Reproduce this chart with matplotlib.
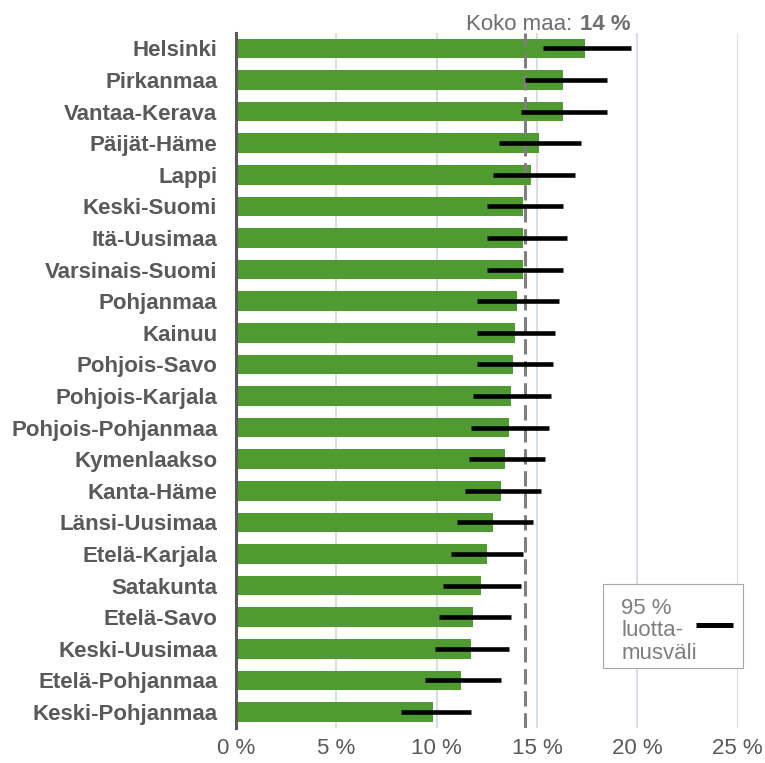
import matplotlib
matplotlib.use("Agg")
import matplotlib.pyplot as plt
from matplotlib.lines import Line2D
from matplotlib.patches import Rectangle

plt.rcParams['font.family'] = ['Liberation Sans', 'DejaVu Sans']

regions = ["Helsinki", "Pirkanmaa", "Vantaa-Kerava", "Päijät-Häme", "Lappi",
           "Keski-Suomi", "Itä-Uusimaa", "Varsinais-Suomi", "Pohjanmaa", "Kainuu",
           "Pohjois-Savo", "Pohjois-Karjala", "Pohjois-Pohjanmaa", "Kymenlaakso",
           "Kanta-Häme", "Länsi-Uusimaa", "Etelä-Karjala", "Satakunta", "Etelä-Savo",
           "Keski-Uusimaa", "Etelä-Pohjanmaa", "Keski-Pohjanmaa"]
values = [17.4, 16.3, 16.3, 15.1, 14.7, 14.3, 14.3, 14.3, 14.0, 13.9, 13.8, 13.7,
          13.6, 13.4, 13.2, 12.8, 12.5, 12.2, 11.8, 11.7, 11.2, 9.8]
ci_low = [15.3, 14.4, 14.2, 13.1, 12.8, 12.5, 12.5, 12.5, 12.0, 12.0, 12.0, 11.8,
          11.7, 11.6, 11.4, 11.0, 10.7, 10.3, 10.1, 9.9, 9.4, 8.2]
ci_high = [19.7, 18.5, 18.5, 17.2, 16.9, 16.3, 16.5, 16.3, 16.1, 15.9, 15.8, 15.7,
           15.6, 15.4, 15.2, 14.8, 14.3, 14.2, 13.7, 13.6, 13.2, 11.7]
national = 14.4
national_label = "14 %"
xticks = [0, 5, 10, 15, 20, 25]
xtick_labels = ["0 %", "5 %", "10 %", "15 %", "20 %", "25 %"]

GREEN = '#509B31'
TXT = '#595959'

fig = plt.figure(figsize=(7.65, 7.63), dpi=100)
ax = fig.add_axes([0.3085, 0.0461, 0.9643 - 0.3085, 0.9574 - 0.0461])

y = list(range(len(regions)))
ax.barh(y, values, height=0.62, color=GREEN, zorder=2)
ax.hlines(y, ci_low, ci_high, color='black', linewidth=3.3, zorder=4)
ax.axvline(national, color='#7F7F7F', linewidth=2.2, dashes=(5, 2.2), zorder=3)

ax.set_xlim(0, 25)
ax.set_ylim(len(regions) - 0.5, -0.5)
ax.set_xticks(xticks)
ax.set_xticklabels(xtick_labels)
ax.set_yticks(y)
ax.set_yticklabels(regions, fontweight='bold')
ax.tick_params(axis='y', length=0, pad=13.5, labelsize=16, labelcolor=TXT)
ax.tick_params(axis='x', length=0, pad=7.5, labelsize=16, labelcolor=TXT)
ax.grid(axis='x', color='#D9DDE4', linewidth=1.5, zorder=0)
ax.set_axisbelow(True)
for s in ['top', 'right', 'bottom']:
    ax.spines[s].set_visible(False)
ax.spines['left'].set_color('#595959')
ax.spines['left'].set_linewidth(2.2)
ax.spines['left'].set_zorder(5)

trans = ax.get_xaxis_transform()
ax.text(16.74, 1.003, "Koko maa:", transform=trans, ha='right', va='baseline',
        fontsize=16, color='#6E6E6E')
ax.text(17.13, 1.003, national_label, transform=trans, ha='left', va='baseline',
        fontsize=16, color='#6E6E6E', fontweight='bold')

# legend box
fig.patches.append(Rectangle((0.7886, 0.1241), 0.183, 0.1101, transform=fig.transFigure,
                             facecolor='white', edgecolor='#A6A6A6', linewidth=0.8, zorder=10))
fig.text(0.8120, 1 - 631 / 763, "95 %\nluotta-\nmusväli", ha='left', va='center', fontsize=16,
         color='#7F7F7F', linespacing=1.09, zorder=11)
fig.lines.append(Line2D([696 / 765, 733 / 765], [1 - 625 / 763, 1 - 625 / 763],
                        transform=fig.transFigure, color='black', linewidth=3.6,
                        solid_capstyle='butt', zorder=11))

fig.savefig("out.png", dpi=100)
